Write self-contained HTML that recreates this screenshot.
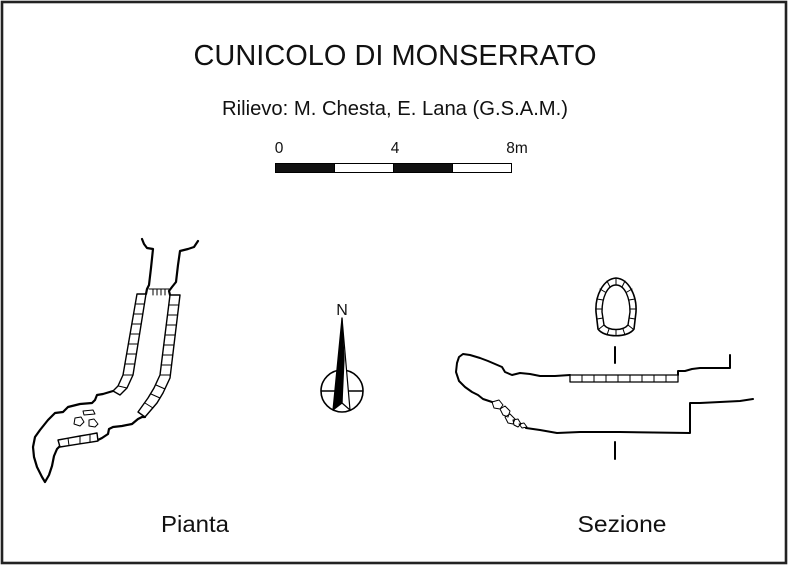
<!DOCTYPE html>
<html>
<head>
<meta charset="utf-8">
<style>
html,body{margin:0;padding:0;background:#fff;}
svg{display:block;}
text{font-family:"Liberation Sans",Arial,sans-serif;fill:#111;}
</style>
</head>
<body>
<svg width="788" height="565" viewBox="0 0 788 565" xmlns="http://www.w3.org/2000/svg">
<rect x="0" y="0" width="788" height="565" fill="#fff"/>
<rect x="2" y="2" width="784" height="561" fill="none" stroke="#222" stroke-width="2.6"/>

<!-- Titles -->
<text x="395" y="65" font-size="28.5" text-anchor="middle" textLength="403" lengthAdjust="spacingAndGlyphs">CUNICOLO DI MONSERRATO</text>
<text x="395" y="115" font-size="20" text-anchor="middle" textLength="346" lengthAdjust="spacingAndGlyphs">Rilievo: M. Chesta, E. Lana (G.S.A.M.)</text>

<!-- Scale bar -->
<text x="279" y="153" font-size="15.5" text-anchor="middle">0</text>
<text x="395" y="153" font-size="15.5" text-anchor="middle">4</text>
<text x="517" y="153" font-size="15.5" text-anchor="middle">8m</text>
<g stroke="#000" stroke-width="1">
<rect x="275.5" y="163.5" width="59" height="9" fill="#111"/>
<rect x="334.5" y="163.5" width="59" height="9" fill="#fff"/>
<rect x="393.5" y="163.5" width="59" height="9" fill="#111"/>
<rect x="452.5" y="163.5" width="59" height="9" fill="#fff"/>
</g>

<!-- PIANTA (plan) -->
<g fill="none" stroke="#000" stroke-linejoin="round" stroke-linecap="round">
  <path stroke-width="2.2" d="M142,239 L144,244 L147,248 L153,249 L151,268 L149,285 L147,289 L146,294"/>
  <path stroke-width="2.2" d="M198,241 L194,247 L188,249 L180,251 L178,265 L176,282 L172,287 L169,291 L170,295"/>
  <path stroke-width="1" d="M149,289 L169,289 M153,289 L153,295 M157,289 L157,295 M161,289 L161,295 M165,289 L165,295"/>
  <path stroke-width="1.4" fill="#fff" d="M137,294 L146,294 L133,375 L127,388 L120,395 L113,391 L118,386 L123,375 Z"/>
  <path stroke-width="1" d="M135.3,304 L144.4,304 M133.5,314 L142.8,314 M131.8,324 L141.2,324 M130.1,334 L139.6,334 M128.4,344 L138,344 M126.6,354 L136.4,354 M124.9,364 L134.8,364 M123,375 L133,375 M118.5,386 L127,388"/>
  <path stroke-width="1.4" fill="#fff" d="M170,295 L180,295 L170,378 L163,393 L157,403 L145,417 L138,412 L148,398 L154,388 L160,375 Z"/>
  <path stroke-width="1" d="M168.75,305 L178.8,305 M167.5,315 L177.6,315 M166.25,325 L176.4,325 M165,335 L175.2,335 M163.75,345 L174,345 M162.5,355 L172.8,355 M161.25,365 L171.6,365 M160,375 L170.4,375 M156,385 L165,389 M151,394 L160,398 M145,403 L153,408"/>
  <path stroke-width="2.2" d="M113,391 L103,394 L97,395 L95,400 L92,403 L80,404 L68,407 L63,412 L55,413 L48,420 L40,430 L35,437 L33,447 L34,457 L37,467 L42,477 L45,482 L49,475 L52,466 L54,456 L57,449 L60,446"/>
  <path stroke-width="2.2" d="M98,440 L102,438 L108,434 L109,429 L113,427 L122,426 L132,424 L138,419 L142,417 L145,417"/>
  <path stroke-width="1.4" fill="#fff" d="M58,440 L68,438.2 L80,436 L90,434.3 L97,433 L98,441 L90,442.3 L80,443.8 L69,445.6 L60,447 Z"/>
  <path stroke-width="1" d="M68,438.2 L69,445.6 M80,436 L80,443.8 M90,434.3 L90,442.3"/>
  <path stroke-width="1" d="M83,411 L93,410 L95,414 L84,415 Z"/>
  <path stroke-width="1" d="M75,418 L81,417 L84,422 L80,426 L74,424 Z"/>
  <path stroke-width="1" d="M89,420 L94,419 L98,424 L95,427 L89,426 Z"/>
</g>
<text x="195" y="532" font-size="23.5" text-anchor="middle" textLength="68" lengthAdjust="spacingAndGlyphs">Pianta</text>

<!-- Compass -->
<text x="342" y="315" font-size="16" text-anchor="middle">N</text>
<g stroke="#000" stroke-linejoin="round">
  <circle cx="342" cy="391" r="21" fill="none" stroke-width="1.6"/>
  <line x1="321" y1="391" x2="363" y2="391" stroke-width="1.4"/>
  <polygon points="342,318 350,410 342,403" fill="#fff" stroke-width="1.2"/>
  <polygon points="342,318 344,360 342,403 333,410" fill="#000" stroke-width="1.2"/>
</g>

<!-- SEZIONE -->
<g fill="none" stroke="#000" stroke-linejoin="round" stroke-linecap="round">
  <!-- cross section (egg shaped) -->
  <path stroke-width="1.6" fill="#fff" d="M598,329 L596,312 C595,296 603,279 616,278 C629,279 637,296 636,312 L634,329 C628,338 604,338 598,329 Z"/>
  <path stroke-width="1.4" d="M604,325 L602,312 C602,298 607,285 616,285 C625,285 630,298 630,312 L628,325 C623,331 609,331 604,325 Z"/>
  <path stroke-width="1" d="M607,281 L610,287 M600,289 L605,292 M597,299 L603,300 M596,309 L602,309 M597,319 L603,318 M599,329 L604,325 M607,335 L609,329 M616,336 L616,330 M625,335 L623,329 M633,329 L628,325 M635,319 L629,318 M636,309 L630,309 M635,299 L629,300 M632,289 L627,292 M625,281 L622,287 M616,278 L616,285"/>
  <path stroke-width="2" d="M615,347 L615,363 M615,442 L615,459"/>
  <path stroke-width="2" d="M730,355 L730,368 L715,368 L700,368 L692,369 L685,371 L678,371 L678,375"/>
  <path stroke-width="2" d="M570,375 L555,376 L540,376 L530,374 L520,373 L512,375 L505,372 L502,367 L495,364 L488,361 L480,358 L470,355 L463,354 L459,357 L457,363 L456,372 L459,381 L465,387 L472,392 L478,395 L483,399 L492,402"/>
  <rect x="570" y="375" width="108" height="7" stroke-width="1.3" fill="#fff"/>
  <path stroke-width="1" d="M582,375 L582,382 M594,375 L594,382 M606,375 L606,382 M618,375 L618,382 M630,375 L630,382 M642,375 L642,382 M654,375 L654,382 M666,375 L666,382"/>
  <path stroke-width="1" d="M492,402 L499,400 L503,405 L500,409 L494,408 Z M500,409 L505,406 L510,411 L508,417 L503,415 Z M505,417 L510,414 L515,419 L513,424 L508,423 Z M513,420 L518,419 L521,424 L518,427 L514,425 Z M519,424 L524,423 L527,427 L522,428 Z"/>
  <path stroke-width="2" d="M526,428 L540,430 L557,433 L580,432 L620,432 L690,433 L690,403 L700,403 L720,402 L740,401 L753,399"/>
</g>
<text x="622" y="532" font-size="23.5" text-anchor="middle" textLength="89" lengthAdjust="spacingAndGlyphs">Sezione</text>
</svg>
</body>
</html>
